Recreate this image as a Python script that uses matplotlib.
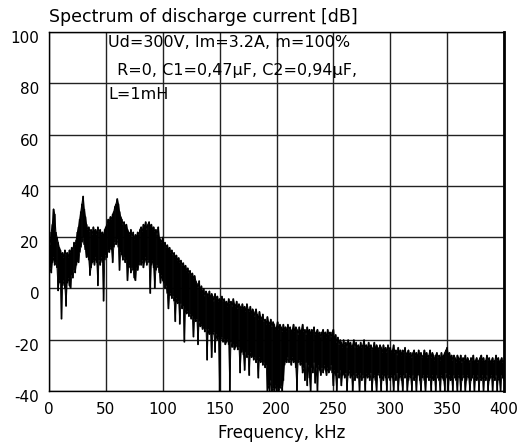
import numpy as np
import matplotlib
matplotlib.use("Agg")
import matplotlib.pyplot as plt
from matplotlib.transforms import ScaledTranslation

# spectrum in 1 kHz bins: top of each bin and bottom of each bin (dB)
freq_khz = np.arange(0, 401)

peak_db = [
    19, 17, 22, 25, 31, 29, 22, 20, 18, 16,
    15, 13, 14, 12, 15, 13, 14, 12, 15, 14,
    16, 15, 18, 17, 19, 22, 24, 27, 30, 33,
    36, 31, 28, 25, 23, 24, 22, 23, 21, 24,
    22, 23, 21, 24, 22, 23, 21, 22, 20, 23,
    24, 25, 27, 26, 28, 27, 29, 30, 32, 33,
    35, 33, 30, 28, 27, 25, 26, 24, 25, 23,
    22, 21, 23, 20, 22, 19, 21, 20, 22, 21,
    23, 24, 22, 25, 24, 26, 23, 25, 26, 24,
    25, 23, 24, 22, 23, 21, 24, 20, 19, 18,
    20, 17, 18, 16, 17, 15, 16, 14, 15, 13,
    14, 12, 13, 11, 12, 10, 11, 9, 10, 8,
    9, 7, 8, 6, 7, 5, 6, 4, 5, 3,
    2, 0, 3, -1, 1, -2, 0, -3, -1, -2,
    -3, -1, -4, -2, -3, -5, -2, -4, -3, -5,
    -4, -6, -3, -5, -4, -6, -5, -7, -4, -6,
    -5, -7, -4, -6, -7, -5, -8, -6, -7, -8,
    -6, -8, -7, -9, -6, -8, -9, -7, -10, -8,
    -9, -11, -8, -10, -12, -9, -11, -12, -10, -13,
    -12, -14, -11, -13, -14, -12, -15, -13, -14, -16,
    -15, -13, -16, -14, -15, -17, -14, -16, -15, -17,
    -14, -16, -15, -17, -16, -14, -17, -15, -16, -18,
    -15, -17, -16, -14, -17, -16, -18, -15, -17, -16,
    -18, -16, -17, -15, -18, -17, -16, -18, -17, -19,
    -17, -16, -18, -17, -19, -16, -18, -17, -19, -17,
    -16, -20, -18, -21, -19, -22, -20, -21, -23, -20,
    -22, -21, -23, -20, -22, -21, -23, -22, -20, -23,
    -21, -23, -22, -24, -21, -23, -22, -20, -23, -22,
    -24, -21, -23, -22, -24, -23, -21, -24, -22, -23,
    -24, -22, -23, -25, -22, -24, -23, -25, -22, -24,
    -23, -25, -24, -22, -25, -24, -26, -23, -25, -24,
    -26, -24, -25, -23, -26, -25, -24, -26, -25, -27,
    -25, -24, -26, -25, -27, -24, -26, -25, -27, -26,
    -24, -26, -25, -27, -26, -24, -27, -25, -26, -28,
    -26, -25, -27, -26, -28, -25, -27, -26, -25, -24,
    -23, -26, -25, -27, -26, -28, -26, -27, -29, -26,
    -27, -28, -26, -29, -27, -28, -26, -29, -27, -28,
    -29, -27, -28, -26, -29, -28, -27, -29, -28, -27,
    -26, -28, -27, -29, -28, -26, -28, -27, -29, -28,
    -27, -29, -28, -26, -28, -27, -29, -28, -27, -29,
    -28,
]

floor_db = [
    4, 8, 6, 10, 12, 9, 10, 8, -1, 3,
    2, -12, 1, 3, 0, -7, 2, 4, 1, 0,
    5, 4, 7, 6, 9, 11, 10, 14, 16, 18,
    20, 17, 15, 12, 13, 11, 5, 8, 10, 11,
    9, 12, 10, 1, 11, 9, 12, 10, -5, 11,
    13, 12, 15, 14, 16, 15, 10, 16, 18, 17,
    19, 16, 7, 14, 13, 11, 12, 10, 11, 3,
    8, 9, 6, 8, 7, 4, 3, 8, 7, 9,
    10, 9, 11, 8, 10, 12, 9, 11, 10, -2,
    9, 11, 8, 0, 7, 9, 8, 6, 2, 5,
    3, 2, 0, 1, -2, -8, -3, -2, -4, -3,
    -5, -13, -4, -6, -5, -14, -6, -8, -7, -21,
    -8, -10, -9, -11, -10, -12, -11, -19, -12, -13,
    -12, -22, -13, -15, -14, -16, -15, -17, -16, -28,
    -16, -18, -17, -27, -18, -17, -25, -18, -20, -19,
    -40, -20, -19, -21, -20, -22, -21, -20, -22, -40,
    -21, -23, -22, -24, -23, -22, -24, -23, -33, -25,
    -24, -26, -32, -25, -27, -26, -34, -25, -27, -26,
    -28, -27, -29, -28, -35, -27, -29, -28, -30, -29,
    -31, -30, -40, -38, -40, -36, -40, -39, -40, -38,
    -40, -37, -40, -39, -38, -40, -36, -30, -28, -29,
    -27, -29, -28, -30, -27, -29, -28, -31, -40, -29,
    -28, -30, -29, -33, -31, -36, -29, -38, -30, -35,
    -40, -31, -33, -29, -37, -31, -40, -30, -32, -34,
    -31, -33, -30, -32, -34, -31, -33, -32, -30, -33,
    -38, -32, -34, -40, -33, -35, -32, -38, -34, -33,
    -35, -33, -40, -34, -32, -35, -33, -40, -34, -36,
    -33, -35, -34, -40, -33, -36, -34, -35, -40, -33,
    -35, -34, -36, -33, -40, -35, -34, -36, -40, -34,
    -33, -35, -40, -34, -36, -33, -35, -40, -34, -35,
    -36, -34, -35, -40, -34, -36, -33, -40, -35, -34,
    -36, -40, -34, -35, -33, -40, -36, -34, -35, -40,
    -34, -36, -35, -40, -34, -33, -36, -40, -35, -34,
    -36, -40, -35, -34, -36, -35, -40, -34, -36, -35,
    -40, -34, -35, -36, -40, -34, -35, -36, -40, -33,
    -35, -40, -34, -36, -35, -40, -34, -35, -36, -40,
    -34, -35, -40, -36, -34, -35, -40, -36, -34, -35,
    -40, -36, -35, -34, -40, -35, -36, -34, -40, -35,
    -36, -34, -40, -35, -36, -34, -40, -36, -35, -34,
    -40, -35, -36, -34, -40, -35, -36, -40, -34, -35,
    -36,
]

x_ticks = [0, 50, 100, 150, 200, 250, 300, 350, 400]
y_ticks = [-40, -20, 0, 20, 40, 60, 80, 100]
notes = [
    (52, 94.3, "Ud=300V, Im=3.2A, m=100%"),
    (55.5, 83.3, " R=0, C1=0,47μF, C2=0,94μF,"),
    (52, 73.8, "L=1mH"),
]

plt.rcParams["axes.unicode_minus"] = False
plt.rcParams["font.family"] = ["DejaVu Sans"]

fig = plt.figure(figsize=(5.23, 4.48), dpi=100)
ax = fig.add_axes([49 / 523, 57 / 448, 455 / 523, 359 / 448])

ax.vlines(freq_khz, floor_db, peak_db, colors="black", lw=1.3, snap=False, zorder=3)
ax.plot(freq_khz, peak_db, color="black", lw=0.8, zorder=3)
ax.plot(freq_khz, floor_db, color="black", lw=0.6, zorder=3)

ax.set_xlim(0, 400)
ax.set_ylim(-40, 100)
ax.set_xticks(x_ticks)
ax.set_yticks(y_ticks)
ax.grid(True, color="#222222", lw=1.0, zorder=1)
ax.set_axisbelow(True)
ax.tick_params(length=0, labelsize=11, pad=8, colors="black")
ax.tick_params(axis="y", pad=7)
for lab in ax.get_yticklabels():
    lab.set_transform(lab.get_transform() + ScaledTranslation(0, -5 / 100, fig.dpi_scale_trans))
for side, spine in ax.spines.items():
    spine.set_linewidth(1.0)
    spine.set_zorder(4)
ax.spines["right"].set_linewidth(2.0)

for x, y, s in notes:
    ax.text(x, y, s, fontsize=11.5, va="baseline", ha="left", zorder=5)

ax.set_title("Spectrum of discharge current [dB]", loc="left", fontsize=12.5, pad=7)
ax.set_xlabel("Frequency, kHz", fontsize=12)
ax.xaxis.set_label_coords(0.512, -0.093)

fig.savefig("out.png", dpi=100)
